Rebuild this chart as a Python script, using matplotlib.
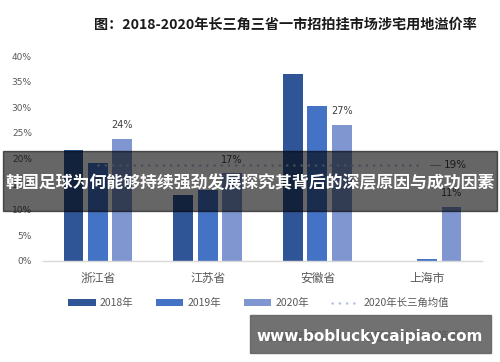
import matplotlib
matplotlib.use("Agg")
import matplotlib.pyplot as plt
from matplotlib.patches import Rectangle
import numpy as np

plt.rcParams['font.family'] = ['Noto Sans CJK SC', 'DejaVu Sans']

# 数据
provinces = ['浙江省', '江苏省', '安徽省', '上海市']
years = ['2018年', '2019年', '2020年']
v2018 = [21.6, 12.9, 36.4, 0.0]
v2019 = [19.2, 13.8, 30.2, 0.3]
v2020 = [23.9, 17.1, 26.6, 10.6]
avg2020 = 18.8
avg_label = '2020年长三角均值'
yticks = [0, 5, 10, 15, 20, 25, 30, 35, 40]

colors = ['#2F5597', '#4472C4', '#7F96D1']
W, H = 500, 362

fig = plt.figure(figsize=(5, 3.62), dpi=100)
ax = fig.add_axes([43 / W, (H - 261) / H, 439 / W, 205 / H])

x = np.arange(len(provinces))
bw = 0.18
step = 0.223
series = [v2018, v2019, v2020]
handles = []
for i, (vals, c, lab) in enumerate(zip(series, colors, years)):
    b = ax.bar(x + (i - 1) * step, vals, width=bw, color=c, label=lab, zorder=2)
    handles.append(b)

# 2020 数据标签
for xi, v in zip(x, v2020):
    ax.text(xi + step, v + 1.7, f'{v:.0f}%', ha='center', va='bottom',
            fontsize=7, color='#404040', family='DejaVu Sans')

# 均值线
ln, = ax.plot([0, 2.95], [avg2020, avg2020], linestyle=(0, (0.1, 2.8)), linewidth=1.8,
              color='#B4C1E2', dash_capstyle='round', label=avg_label, zorder=3)
handles.append(ln)
ax.plot([3.03, 3.12], [avg2020, avg2020], color='#8C8C8C', linewidth=0.6)
ax.text(3.15, avg2020, f'{avg2020:.0f}%', ha='left', va='center', fontsize=7.5,
        color='#404040', family='DejaVu Sans')

ax.set_xlim(-0.5, 3.5)
ax.set_ylim(0, 40)
ax.set_yticks(yticks)
ax.set_yticklabels([f'{t}%' for t in yticks], fontsize=6.5, color='#595959',
                   family='DejaVu Sans')
ax.set_xticks(x)
ax.set_xticklabels(provinces, fontsize=8.5, color='#595959')
ax.tick_params(length=0, pad=8)
for s in ['top', 'right', 'left']:
    ax.spines[s].set_visible(False)
ax.spines['bottom'].set_color('#D9D9D9')
ax.spines['bottom'].set_linewidth(1)

leg = fig.legend(handles=handles, labels=years + [avg_label], loc='center',
                 bbox_to_anchor=(0.517, (H - 303) / H), ncol=4,
                 frameon=False, fontsize=7.5, handlelength=2.6, handleheight=0.6,
                 columnspacing=2.2, handletextpad=0.4)
for t in leg.get_texts():
    t.set_color('#595959')

fig.text(285 / W, (H - 25) / H, '图：2018-2020年长三角三省一市招拍挂市场涉宅用地溢价率',
         ha='center', va='center', fontsize=10.2, fontweight='bold', color='#1a1a1a')

# 来源
fig.text(370 / W, (H - 337) / H, '数据来源：CRIC 中国房地产决策系统', ha='center',
         va='center', fontsize=9, color='#222222', fontweight='bold')

# 覆盖层
fig.patches.append(Rectangle((3 / W, (H - 211) / H), 494 / W, 60 / H,
                             transform=fig.transFigure, color='black', alpha=0.6,
                             zorder=10))
fig.text(250 / W, (H - 183) / H, '韩国足球为何能够持续强劲发展探究其背后的深层原因与成功因素',
         ha='center', va='center', fontsize=12.2, fontweight='bold', color='white',
         zorder=11)
fig.patches.append(Rectangle((250 / W, (H - 353) / H), 241 / W, 38 / H,
                             transform=fig.transFigure, color='#666666', alpha=0.93,
                             zorder=10))
fig.text(370 / W, (H - 336) / H, 'www.bobluckycaipiao.com', ha='center', va='center',
         fontsize=11, fontweight='bold', color='white', family='DejaVu Sans', zorder=11)

fig.savefig('out.png', dpi=100)
